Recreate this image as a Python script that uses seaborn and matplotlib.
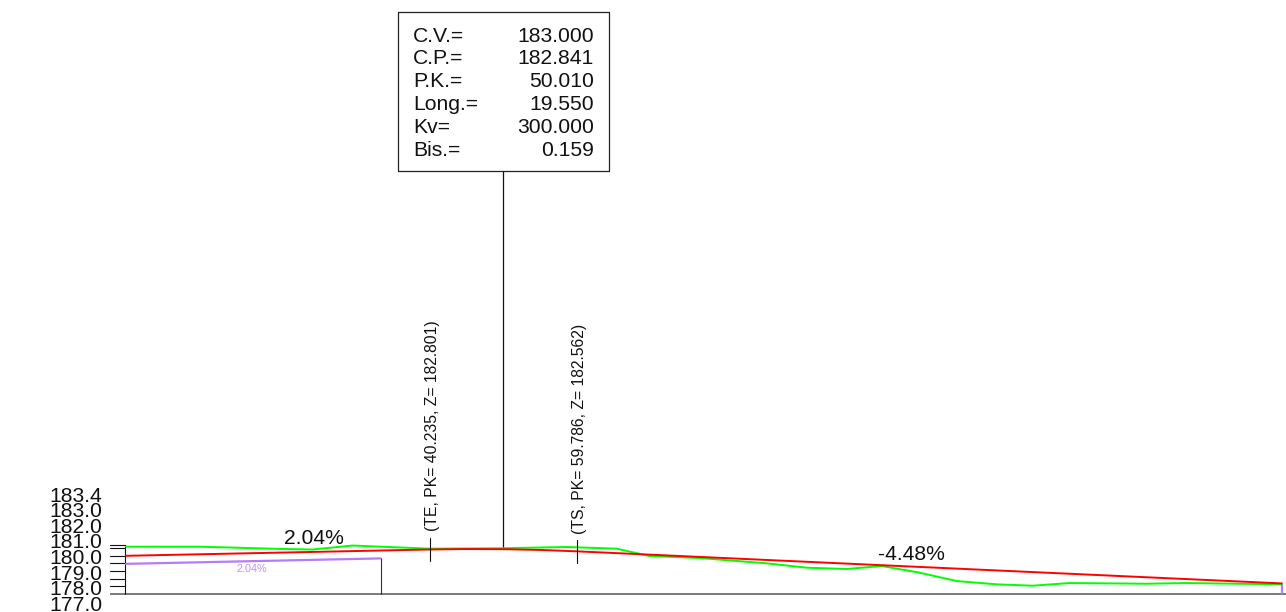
import matplotlib
matplotlib.use("Agg")
import matplotlib.pyplot as plt
from matplotlib.transforms import Affine2D
import pandas as pd
import seaborn as sns

# ---- data ----
terrain_pk = [0, 9.75, 20.76, 24.73, 30.03, 40.24, 49.52, 58.40, 65.03, 69.40, 76.03, 84.90,
              90.21, 95.51, 100.15, 105.19, 110.09, 115.39, 120.16, 125.07, 135.28, 140.58, 153.17]
terrain_z = [183.17, 183.17, 182.87, 182.80, 183.32, 182.91, 182.96, 183.13, 182.91, 181.95, 181.69, 181.00,
             180.43, 180.26, 180.65, 179.78, 178.69, 178.26, 178.08, 178.43, 178.34, 178.43, 178.26]
grade_pk = [0, 40.235, 45.1, 50.01, 54.9, 59.786, 153.2]
grade_z = [181.98, 182.801, 182.861, 182.841, 182.742, 182.562, 178.38]
sub_pk = [0, 33.74]
sub_z = [180.93, 181.64]
end_pk = 153.2
end_z = 178.35
axis_ticks = [183.4, 183.0, 182.0, 181.0, 180.0, 179.0, 178.0, 177.0]
axis_labels = ["183.4", "183.0", "182.0", "181.0", "180.0", "179.0", "178.0", "177.0"]
box_keys = ["C.V.=", "C.P.=", "P.K.=", "Long.=", "Kv=", "Bis.="]
box_vals = ["183.000", "182.841", "50.010", "19.550", "300.000", "0.159"]
te_pk, te_z = 40.235, 182.801
ts_pk, ts_z = 59.786, 182.562

# ---- layout ----
W, H = 1286, 612
sns.set_theme(style="white")
plt.rcParams["font.family"] = ["Liberation Sans", "DejaVu Sans"]
fig = plt.figure(figsize=(W / 100, H / 100), dpi=100, facecolor="white")
ax = fig.add_axes([0, 0, 1, 1])
PX_M, PX_Z = 7.545, 7.67
X0, Y0 = 126.0, 594.0
ax.set_xlim(-X0 / PX_M, (W - X0) / PX_M)
ax.set_ylim(177 - (H - Y0) / PX_Z, 177 + Y0 / PX_Z)
ax.axis("off")
px = Affine2D().scale(1, -1).translate(0, H)
INK = "#111111"
PURPLE = "#b57cf7"

# frame, ticks, baseline
ax.plot([110, W], [594, 594], transform=px, color="#7a7a7a", lw=1.4, solid_capstyle="butt", zorder=1)
ax.plot([125, 125], [545, 594], transform=px, color=INK, lw=0.8, zorder=2)
for t in axis_ticks[:-1]:
    ax.plot([110, 125], [Y0 - (t - 177) * PX_Z] * 2, transform=px, color=INK, lw=0.8, zorder=2)
for i, lab in enumerate(axis_labels):
    ax.text(102.5, 496 + i * 15.6, lab, transform=px, ha="right", va="center", fontsize=15.2, color=INK)

# profile lines
sns.lineplot(data=pd.DataFrame({"pk": sub_pk, "z": sub_z}), x="pk", y="z", ax=ax, color=PURPLE, lw=1.6, zorder=3)
sns.lineplot(data=pd.DataFrame({"pk": terrain_pk, "z": terrain_z}), x="pk", y="z", ax=ax, color="#00ff00", lw=1.4, zorder=4)
sns.lineplot(data=pd.DataFrame({"pk": grade_pk, "z": grade_z}), x="pk", y="z", ax=ax, color="#ff0000", lw=1.4, zorder=5)
ax.set_xlabel("")
ax.set_ylabel("")
ax.axis("off")

# verticals
ax.plot([sub_pk[1]] * 2, [177, sub_z[1]], color="#333333", lw=0.8, zorder=2)
ax.plot([end_pk] * 2, [177, end_z], color=PURPLE, lw=1.6, zorder=3, solid_capstyle="butt")

# TE / TS marks
ax.plot([429.5, 429.5], [538, 561], transform=px, color=INK, lw=0.8, zorder=6)
ax.plot([577, 577], [540, 563], transform=px, color=INK, lw=0.8, zorder=6)
ax.text(432, 531, f"(TE, PK= {te_pk:.3f}, Z= {te_z:.3f})", transform=px, rotation=90, ha="center", va="bottom",
        fontsize=11.35, color=INK)
ax.text(579.5, 534, f"(TS, PK= {ts_pk:.3f}, Z= {ts_z:.3f})", transform=px, rotation=90, ha="center", va="bottom",
        fontsize=11.35, color=INK)

# gradients
ax.text(314, 539, "2.04%", transform=px, ha="center", va="center", fontsize=15.2, color=INK)
ax.text(911, 554, "-4.48%", transform=px, ha="center", va="center", fontsize=15.2, color=INK)
ax.text(252, 569.5, "2.04%", transform=px, ha="center", va="center", fontsize=7.8, color="#c08ff8")

# info box with leader
ax.plot([503.3, 503.3], [170.5, 549], transform=px, color=INK, lw=0.9, zorder=2)
ax.plot([397.5, 609, 609, 397.5, 397.5], [12, 12, 170.5, 170.5, 12], transform=px, color="#222222", lw=0.9)
for i, (k, v) in enumerate(zip(box_keys, box_vals)):
    y = 36 + i * 22.8
    ax.text(413, y, k, transform=px, ha="left", va="center", fontsize=15.2, color=INK)
    ax.text(594, y, v, transform=px, ha="right", va="center", fontsize=15.2, color=INK)

fig.savefig("out.png", dpi=100, facecolor="white")
